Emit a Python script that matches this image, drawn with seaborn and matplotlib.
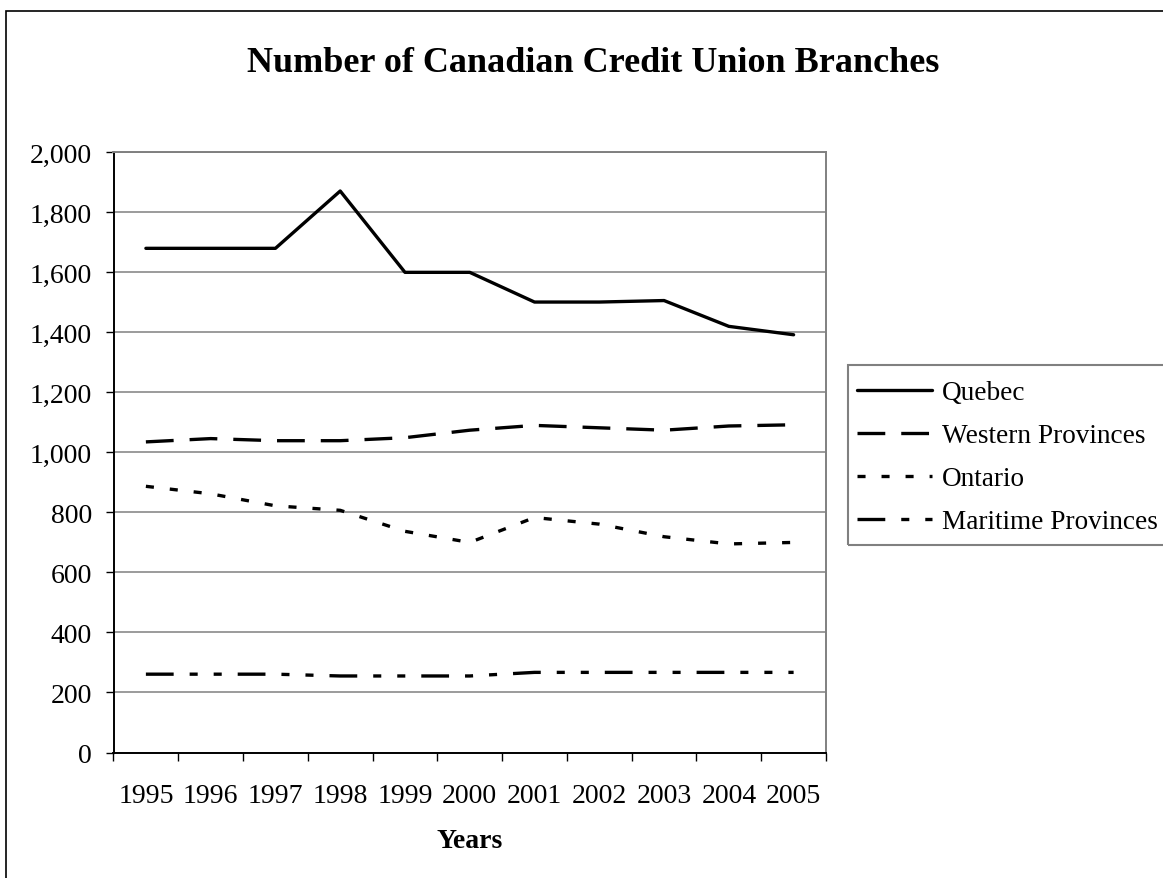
import numpy as np
import pandas as pd
import matplotlib
matplotlib.use("Agg")
import matplotlib.pyplot as plt
import seaborn as sns
from matplotlib.ticker import FuncFormatter, FixedLocator
from matplotlib.patches import Rectangle

# ---- data ----
years = ["1995", "1996", "1997", "1998", "1999", "2000",
         "2001", "2002", "2003", "2004", "2005"]
quebec = [1680, 1680, 1680, 1871, 1600, 1600, 1501, 1501, 1506, 1420, 1392]
western = [1035, 1046, 1039, 1039, 1049, 1074, 1090, 1082, 1074, 1088, 1092]
ontario = [887, 862, 822, 807, 737, 700, 783, 761, 719, 695, 700]
maritime = [261, 261, 261, 255, 255, 255, 267, 267, 267, 267, 267]
series_names = ["Quebec", "Western Provinces", "Ontario", "Maritime Provinces"]
series_values = [quebec, western, ontario, maritime]

title = "Number of Canadian Credit Union Branches"
xlabel = "Years"
yticks = [0, 200, 400, 600, 800, 1000, 1200, 1400, 1600, 1800, 2000]

# ---- style ----
sns.set_theme(style="white")
plt.rcParams["font.family"] = ["Liberation Serif", "DejaVu Serif"]
plt.rcParams["lines.scale_dashes"] = False
for k in ["text.color", "axes.labelcolor", "xtick.color", "ytick.color"]:
    plt.rcParams[k] = "black"

W, H = 1163, 879
fig = plt.figure(figsize=(W / 100, H / 100), dpi=100)
fig.patch.set_facecolor("white")

# axes in pixel coords
left, right, top, bottom = 113.5, 826.0, 153.3, 753.5
ax = fig.add_axes([left / W, 1 - bottom / H, (right - left) / W, (bottom - top) / H])
ax.set_facecolor("white")

styles = {
    "Quebec": "-",
    "Western Provinces": (0, (20, 11.5)),
    "Ontario": (0, (5.8, 11.5)),
    "Maritime Provinces": (0, (20, 11.5, 5.8, 11.5, 5.8, 11.5)),
}

x_idx = np.arange(len(years))
for name, vals in zip(series_names, series_values):
    df = pd.DataFrame({"x": x_idx, "y": vals})
    sns.lineplot(data=df, x="x", y="y", ax=ax, color="black", linewidth=2.4,
                 linestyle=styles[name], label=name, zorder=3)

ax.set_xlim(-0.5, len(years) - 0.5)
ax.set_ylim(0, 2000)

# y axis
ax.yaxis.set_major_locator(FixedLocator(yticks))
ax.yaxis.set_major_formatter(FuncFormatter(lambda v, p: f"{int(v):,}"))
ax.tick_params(axis="y", which="major", direction="out", length=5.5, width=1.0,
               color="black", labelcolor="black", pad=10, labelsize=20, left=True)
ax.grid(axis="y", color="#808080", linewidth=1.1, zorder=1)
ax.grid(axis="x", visible=False)

# x axis
ax.set_xticks(x_idx)
ax.set_xticklabels(years)
ax.set_xticks(np.arange(-0.5, len(years), 1.0), minor=True)
ax.tick_params(axis="x", which="major", length=0, pad=22, labelsize=20,
               labelcolor="black")
ax.tick_params(axis="x", which="minor", direction="out", length=6, width=1.0,
               color="black", bottom=True)

ax.set_xlabel(xlabel, fontsize=20, fontweight="bold", labelpad=14.5, color="black")
ax.set_ylabel("")

for s in ["left", "bottom"]:
    ax.spines[s].set_color("black")
    ax.spines[s].set_linewidth(1.4)
for s in ["top", "right"]:
    ax.spines[s].set_color("#808080")
    ax.spines[s].set_linewidth(1.4)

# legend (frame drawn separately)
ax.get_legend().remove()
handles, labels = ax.get_legend_handles_labels()
leg = fig.legend(handles, labels, loc="upper left",
                 bbox_to_anchor=(848 / W, 1 - 372 / H), borderaxespad=0,
                 fontsize=19.6, frameon=False, handlelength=2.75,
                 handletextpad=0.37, borderpad=0.33, labelspacing=0.66)
for t in leg.get_texts():
    t.set_color("black")

fig.patches.append(Rectangle((848 / W, 1 - 546 / H), 0.5, (546 - 366) / H,
                             transform=fig.transFigure, fill=False,
                             edgecolor="#808080", linewidth=1.5, clip_on=False))

# title
fig.text(593 / W, 1 - 63 / H, title, ha="center", va="center",
         fontsize=26, fontweight="bold", color="black")

# outer chart border
fig.patches.append(Rectangle((6 / W, -0.02), 1.2, 1 - 12 / H + 0.02,
                             transform=fig.transFigure, fill=False,
                             edgecolor="black", linewidth=1.2, clip_on=False))

fig.savefig("out.png", dpi=100)
